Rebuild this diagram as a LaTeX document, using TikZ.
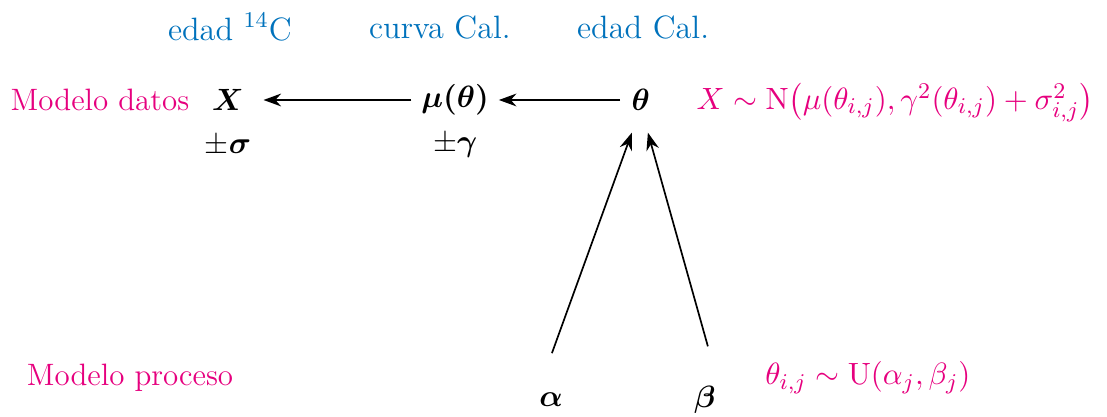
\documentclass[tikz,border=0pt]{standalone}
\usepackage{amsmath,amssymb}
\usepackage{tikz}
\usetikzlibrary{arrows.meta,calc}
\definecolor{calblue}{RGB}{0,114,188}
\definecolor{modpink}{RGB}{230,0,126}
\tikzset{
  arr/.style={-{Stealth[length=2.2mm,width=1.6mm]},semithick},
  var/.style={font=\fontsize{11}{13}\selectfont},
  toplabel/.style={text=calblue,font=\fontsize{11.5}{13}\selectfont},
  model/.style={text=modpink,font=\fontsize{11}{13}\selectfont}
}

\begin{document}
\begin{tikzpicture}
    \useasboundingbox (0,0) rectangle (13.84,5.2125);
    % top labels
    \node[toplabel] (l14c) at (2.875,4.875) {edad $^{14}$C};
    \node[toplabel] (lcurva) at (5.5,4.875) {curva Cal.};
    \node[toplabel] (lcal) at (8.04,4.875) {edad Cal.};
    % data model
    \node[model] (datos) at (1.25,3.9625) {Modelo datos};
    \node[var] (X) at (2.85,3.9625) {$\boldsymbol{X}$};
    \node[var] (mu) at (5.69,3.9625) {$\boldsymbol{\mu(\theta)}$};
    \node[var] (theta) at (8.01,3.9625) {$\boldsymbol{\theta}$};
    \node[var] (sig) at (2.85,3.39) {$\pm\boldsymbol{\sigma}$};
    \node[var] (gam) at (5.69,3.39) {$\pm\boldsymbol{\gamma}$};
    \node[model] (normal) at (11.19,3.93) {$X\sim\mathrm{N}\bigl(\mu(\theta_{i,j}),\gamma^2(\theta_{i,j})+\sigma^2_{i,j}\bigr)$};
    % process model
    \node[model] (proceso) at (1.625,0.4875) {Modelo proceso};
    \node[var] (alpha) at (6.89,0.2125) {$\boldsymbol{\alpha}$};
    \node[var] (beta) at (8.81,0.2125) {$\boldsymbol{\beta}$};
    \node[model] (unif) at (10.85,0.4875) {$\theta_{i,j}\sim\mathrm{U}(\alpha_j,\beta_j)$};
    % arrows
    \draw[arr,shorten >=3.5pt] (mu) -- (X);
    \draw[arr,shorten <=0.5pt] (theta) -- (mu);
    \draw[arr] ($(alpha.north)+(0.01,0.375)$) -- ($(theta.south)+(-0.11,-0.15)$);
    \draw[arr] ($(beta.north)+(0.04,0.375)$) -- ($(theta.south)+(0.09,-0.15)$);
\end{tikzpicture}
\end{document}
